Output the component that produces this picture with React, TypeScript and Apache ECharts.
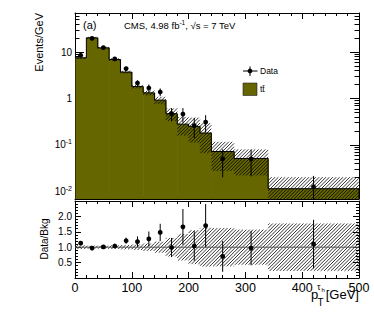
import React, { useEffect, useRef } from 'react';
import * as echarts from 'echarts';

// ---------- data ----------
const binEdges = [0, 20, 40, 60, 80, 100, 120, 140, 160, 180, 200, 220, 240, 280, 340, 500];
const ttbarExpected = [7.5, 20.2, 12.3, 6.9, 3.7, 1.8, 1.32, 0.92, 0.47, 0.28, 0.25, 0.18, 0.072, 0.051, 0.0114];
const bkgRelUnc = [0.06, 0.05, 0.05, 0.06, 0.07, 0.09, 0.12, 0.18, 0.3, 0.43, 0.55, 0.63, 0.62, 0.57, 0.77];
const dataCenters = [10, 30, 50, 70, 90, 110, 130, 150, 170, 190, 210, 230, 260, 310, 420];
const dataValues = [8.5, 19.7, 12.4, 7.1, 4.4, 2.15, 1.68, 1.38, 0.47, 0.46, 0.26, 0.31, 0.05, 0.05, 0.0125];
const dataErrors = [0.4, 0.6, 0.5, 0.35, 0.37, 0.31, 0.32, 0.26, 0.15, 0.16, 0.12, 0.126, 0.03, 0.029, 0.009];
const ratioValues = [1.13, 0.97, 1.01, 1.04, 1.21, 1.18, 1.27, 1.48, 0.99, 1.66, 1.04, 1.7, 0.7, 0.97, 1.1];
const ratioErrors = [0.05, 0.03, 0.04, 0.05, 0.1, 0.17, 0.24, 0.28, 0.31, 0.58, 0.48, 0.7, 0.5, 0.56, 0.79];
const logMajorTicks = [-2, -1, 0, 1];
const logMajorLabels = ['10^-2', '10^-1', '1', '10'];
const xTickLabels = ['0', '100', '200', '300', '400', '500'];

const OLIVE = '#666600';
const FONT = '"Liberation Sans", Arial, Helvetica, sans-serif';
const LOG_MIN = -2.165;
const LOG_MAX = 1.84;
const HATCH = 3.4;

function hatchLines(x0: number, y0: number, x1: number, y1: number) {
  const out: any[] = [];
  const start = Math.ceil((x0 + y0) / HATCH) * HATCH;
  for (let c = start; c <= x1 + y1; c += HATCH) {
    const xa = Math.max(x0, c - y1);
    const xb = Math.min(x1, c - y0);
    if (xb > xa) {
      out.push({
        type: 'line',
        shape: { x1: xa, y1: c - xa, x2: xb, y2: c - xb },
        style: { stroke: '#000', lineWidth: 0.8 },
      });
    }
  }
  return out;
}

function bandRender(params: any, api: any) {
  const a = api.coord([api.value(0), api.value(3)]);
  const b = api.coord([api.value(1), api.value(2)]);
  return { type: 'group', children: hatchLines(a[0], a[1], b[0], b[1]) };
}

function pointRender(params: any, api: any) {
  const c = api.coord([api.value(0), api.value(1)]);
  const lo = api.coord([api.value(0), api.value(2)]);
  const hi = api.coord([api.value(0), api.value(3)]);
  return {
    type: 'group',
    children: [
      { type: 'line', shape: { x1: c[0], y1: lo[1], x2: c[0], y2: hi[1] }, style: { stroke: '#000', lineWidth: 1 } },
      { type: 'circle', shape: { cx: c[0], cy: c[1], r: 2.4 }, style: { fill: '#000' } },
    ],
  };
}

const tickStyle = { color: '#000', width: 1 };

function xAxisDef(gridIndex: number, position: string, labels: boolean) {
  return {
    type: 'value',
    gridIndex,
    position,
    min: 0,
    max: 500,
    interval: 100,
    axisLine: { show: true, onZero: false, lineStyle: tickStyle },
    axisTick: { show: true, inside: true, length: 6, lineStyle: tickStyle },
    minorTick: { show: true, splitNumber: 5, length: 3, lineStyle: tickStyle },
    splitLine: { show: false },
    minorSplitLine: { show: false },
    axisLabel: {
      show: labels,
      margin: 3,
      fontSize: 12.5,
      fontFamily: FONT,
      color: '#000',
      formatter: (v: number) => xTickLabels[Math.round(v / 100)] ?? '',
    },
  };
}

function logAxisDef(position: string, major: boolean, labels: boolean) {
  const minor: number[] = [];
  for (let n = -3; n <= 1; n++) {
    for (let k = 2; k <= 9; k++) {
      const v = Math.log10(k) + n;
      if (v > LOG_MIN && v < LOG_MAX) minor.push(v);
    }
  }
  return {
    type: 'value',
    gridIndex: 0,
    position,
    min: LOG_MIN,
    max: LOG_MAX,
    axisLine: { show: major, onZero: false, lineStyle: tickStyle },
    axisTick: { show: true, inside: true, length: major ? 9 : 4.5, customValues: major ? logMajorTicks : minor, lineStyle: tickStyle },
    splitLine: { show: false },
    axisLabel: {
      show: labels,
      customValues: logMajorTicks,
      margin: 3,
      formatter: (v: number) => {
        const i = logMajorTicks.indexOf(Math.round(v));
        const s = logMajorLabels[i] ?? '';
        if (s.indexOf('^') >= 0) {
          const [b, e] = s.split('^');
          return `{b|${b}}{s|${e}}`;
        }
        return `{b|${s}}`;
      },
      rich: {
        b: { fontSize: 10, fontFamily: FONT, color: '#000' },
        s: { fontSize: 7, fontFamily: FONT, color: '#000', padding: [0, 0, 6, 0] },
      },
    },
  };
}

function ratioAxisDef(position: string, labels: boolean) {
  return {
    type: 'value',
    gridIndex: 1,
    position,
    min: 0,
    max: 2.5,
    interval: 0.5,
    axisLine: { show: true, onZero: false, lineStyle: tickStyle },
    axisTick: { show: true, inside: true, length: 6, lineStyle: tickStyle },
    minorTick: { show: true, splitNumber: 5, length: 3, lineStyle: tickStyle },
    splitLine: { show: false },
    minorSplitLine: { show: false },
    axisLabel: {
      show: labels,
      showMinLabel: false,
      showMaxLabel: false,
      margin: 3,
      fontSize: 10,
      fontFamily: FONT,
      color: '#000',
      formatter: (v: number) => v.toFixed(1),
    },
  };
}

function txt(x: number, y: number, text: string, size: number, extra: any = {}) {
  return {
    type: 'text',
    x,
    y,
    silent: true,
    ...extra.el,
    style: {
      text,
      fontSize: size,
      fontFamily: FONT,
      fill: '#000',
      align: extra.align ?? 'left',
      textAlign: extra.align ?? 'left',
      verticalAlign: 'middle',
      textVerticalAlign: 'middle',
      ...(extra.style || {}),
    },
  };
}

export default function App() {
  const ref = useRef<HTMLDivElement>(null);
  useEffect(() => {
    const chart = echarts.init(ref.current!, null, { renderer: 'svg' });
    const n = ttbarExpected.length;
    const histItems = ttbarExpected.map((v, i) => [
      binEdges[i],
      binEdges[i + 1],
      Math.log10(v),
      i === 0 ? LOG_MIN : Math.log10(ttbarExpected[i - 1]),
    ]);
    const bandItems = ttbarExpected.map((v, i) => [
      binEdges[i],
      binEdges[i + 1],
      Math.log10(v * (1 - bkgRelUnc[i])),
      Math.log10(v * (1 + bkgRelUnc[i])),
    ]);
    const dataItems = dataValues.map((v, i) => [
      dataCenters[i],
      Math.log10(v),
      v - dataErrors[i] > 0 ? Math.log10(v - dataErrors[i]) : LOG_MIN - 1,
      Math.log10(v + dataErrors[i]),
    ]);
    const ratioBandItems = bkgRelUnc.map((e, i) => [binEdges[i], binEdges[i + 1], 1 - e, 1 + e]);
    const ratioItems = ratioValues.map((r, i) => [dataCenters[i], r, r - ratioErrors[i], r + ratioErrors[i]]);

    chart.setOption({
      animation: false,
      backgroundColor: '#fff',
      grid: [
        { left: 75, right: 15, top: 13, height: 186 },
        { left: 75, right: 15, top: 201, height: 77 },
      ],
      xAxis: [
        xAxisDef(0, 'bottom', false),
        xAxisDef(0, 'top', false),
        xAxisDef(1, 'bottom', true),
        xAxisDef(1, 'top', false),
      ],
      yAxis: [
        logAxisDef('left', true, true),
        logAxisDef('left', false, false),
        logAxisDef('right', true, false),
        logAxisDef('right', false, false),
        ratioAxisDef('left', true),
        ratioAxisDef('right', false),
      ],
      series: [
        {
          type: 'custom',
          name: 'ttbar',
          xAxisIndex: 0,
          yAxisIndex: 0,
          clip: true,
          data: histItems,
          renderItem: (params: any, api: any) => {
            const a = api.coord([api.value(0), api.value(2)]);
            const b = api.coord([api.value(1), LOG_MIN]);
            return {
              type: 'rect',
              shape: { x: a[0], y: a[1], width: b[0] - a[0] + 0.6, height: b[1] - a[1] },
              style: { fill: OLIVE },
            };
          },
          z: 1,
        },
        {
          type: 'custom',
          name: 'ttbarOutline',
          xAxisIndex: 0,
          yAxisIndex: 0,
          clip: true,
          data: histItems,
          renderItem: (params: any, api: any) => {
            const p0 = api.coord([api.value(0), api.value(3)]);
            const p1 = api.coord([api.value(0), api.value(2)]);
            const p2 = api.coord([api.value(1), api.value(2)]);
            const pts = [p0, p1, p2];
            if (params.dataIndex === n - 1) pts.push(api.coord([api.value(1), LOG_MIN]));
            return { type: 'polyline', shape: { points: pts }, style: { stroke: '#000', lineWidth: 1, fill: 'none' } };
          },
          z: 2,
        },
        {
          type: 'custom',
          name: 'unc',
          xAxisIndex: 0,
          yAxisIndex: 0,
          clip: true,
          data: bandItems,
          renderItem: bandRender,
          z: 3,
        },
        {
          type: 'custom',
          name: 'Data',
          xAxisIndex: 0,
          yAxisIndex: 0,
          clip: true,
          data: dataItems,
          renderItem: pointRender,
          z: 4,
        },
        {
          type: 'custom',
          name: 'ratioUnc',
          xAxisIndex: 2,
          yAxisIndex: 4,
          clip: true,
          data: ratioBandItems,
          renderItem: bandRender,
          z: 3,
        },
        {
          type: 'line',
          name: 'unity',
          xAxisIndex: 2,
          yAxisIndex: 4,
          data: [[0, 1], [500, 1]],
          symbol: 'none',
          silent: true,
          lineStyle: { color: '#555', width: 1 },
          z: 3,
        },
        {
          type: 'custom',
          name: 'ratio',
          xAxisIndex: 2,
          yAxisIndex: 4,
          clip: true,
          data: ratioItems,
          renderItem: pointRender,
          z: 4,
        },
      ],
      graphic: [
        txt(39, 13, 'Events/GeV', 11, { align: 'right', el: { rotation: Math.PI / 2 } }),
        txt(44.5, 239, 'Data/Bkg', 10, { align: 'center', el: { rotation: Math.PI / 2 } }),
        txt(83, 25, '(a)', 11),
        {
          type: 'text',
          x: 124,
          y: 25,
          silent: true,
          style: {
            text: '{n|CMS, 4.98 fb}{s|-1}{n|, \u221As = 7 TeV}',
            verticalAlign: 'middle',
            textVerticalAlign: 'middle',
            rich: {
              n: { fontSize: 9.5, fontFamily: FONT, fill: '#000', color: '#000' },
              s: { fontSize: 6.5, fontFamily: FONT, fill: '#000', color: '#000', padding: [0, 0, 5, 0] },
            },
          },
        },
        // legend
        { type: 'line', silent: true, shape: { x1: 243, y1: 71, x2: 257.5, y2: 71 }, style: { stroke: '#000', lineWidth: 1 } },
        { type: 'line', silent: true, shape: { x1: 250, y1: 66.5, x2: 250, y2: 76 }, style: { stroke: '#000', lineWidth: 1 } },
        { type: 'circle', silent: true, shape: { cx: 250, cy: 71, r: 2.4 }, style: { fill: '#000' } },
        txt(260, 71, 'Data', 8.5),
        { type: 'rect', silent: true, shape: { x: 243, y: 83, width: 14, height: 12.5 }, style: { fill: OLIVE, stroke: '#222', lineWidth: 0.6 } },
        txt(260, 89, 't\u0074\u0304', 8.5),
        // x title
        txt(311, 294.5, 'p', 13),
        txt(317.6, 302.5, 'T', 10),
        txt(317, 287, '\u03C4', 9),
        txt(321.5, 290, 'h', 6),
        txt(359, 294.5, '[GeV]', 13, { align: 'right' }),
      ],
    });
    return () => chart.dispose();
  }, []);
  return <div ref={ref} style={{ position: 'absolute', left: 0, top: 0, width: 374, height: 313 }} />;
}
